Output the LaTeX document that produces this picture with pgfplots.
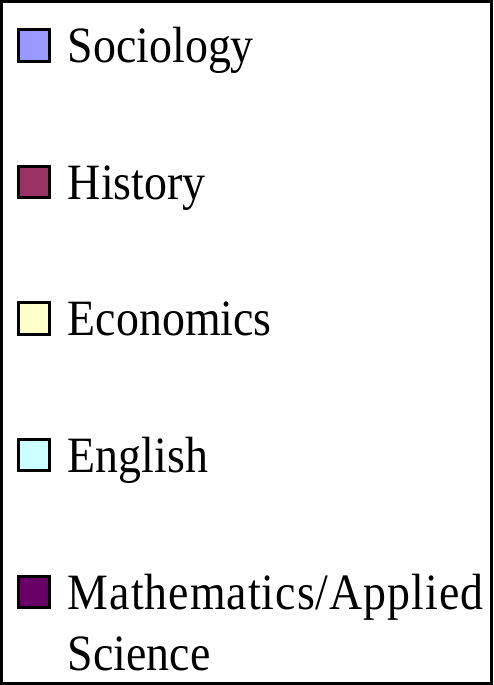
\documentclass[border=0pt]{standalone}
\usepackage{pgfplots}
\pgfplotsset{compat=1.18}
\usepackage{fontspec}
\setmainfont{Liberation Serif}[FakeStretch=0.9]

\definecolor{soc}{HTML}{9999FF}
\definecolor{hist}{HTML}{993366}
\definecolor{econ}{HTML}{FFFFCC}
\definecolor{engl}{HTML}{CCFFFF}
\definecolor{math}{HTML}{660066}

% struts so every legend row has the same height and depth
\newcommand\hs{\rule[-5.5pt]{0pt}{23pt}}
\newcommand\hsfirst{\rule[-5.5pt]{0pt}{35pt}}

\begin{document}
\begin{tikzpicture}
\begin{axis}[
    ybar,
    scale only axis,
    width=1pt, height=1pt,
    xmin=0, xmax=1, ymin=0, ymax=1,
    hide axis,
    clip=true,
    every axis plot/.append style={
        draw=black,
        legend image code/.code={
            \path (0pt,0pt);
            \draw[##1, draw=black, line width=1.5pt] (4.25pt,0.75pt) rectangle (19.75pt,16.5pt);
        },
    },
    legend style={
        at={(0,0)}, anchor=south west,
        draw=black, line width=1.5pt,
        inner xsep=3.75pt, inner ysep=1.25pt,
        row sep=45.25pt, column sep=8.25pt,
        font=\fontsize{25.5}{30.5}\selectfont,
        nodes={inner sep=0pt, text depth=, text height=},
        cells={anchor=base west},
    },
]
% the chart's bars lie outside the shown range: only the legend is visible
\addplot[fill=soc]  coordinates {(2,2)};
\addplot[fill=hist] coordinates {(2,2)};
\addplot[fill=econ] coordinates {(2,2)};
\addplot[fill=engl] coordinates {(2,2)};
\addplot[fill=math] coordinates {(2,2)};
\legend{\hsfirst Sociology, \hs History, \hs Economics, \hs English,
  {\vtop{\baselineskip=30.5pt\hbox{\hs\makebox[208.5pt][l]{\addfontfeature{LetterSpace=2}Mathematics/Applied}}\hbox{\hs Science}}}}
\end{axis}
\end{tikzpicture}
\end{document}
